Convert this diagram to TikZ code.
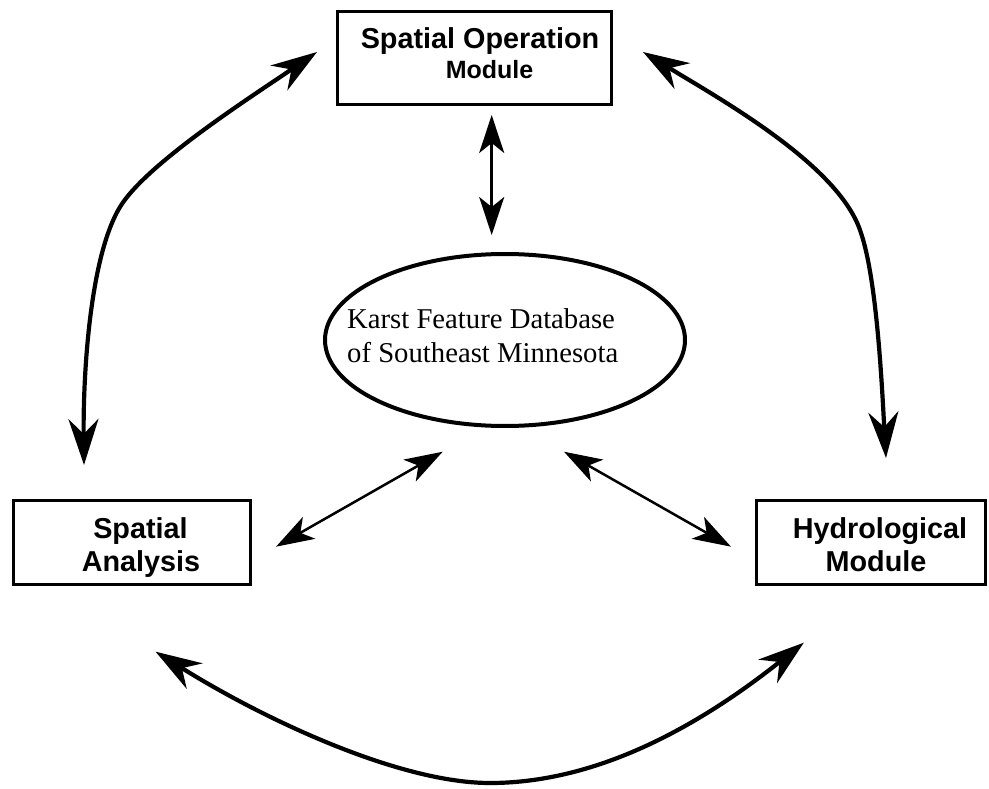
\documentclass[tikz,border=0pt]{standalone}
\usepackage{fontspec}
\setmainfont{Liberation Serif}
\setsansfont{Liberation Sans}
\usetikzlibrary{arrows.meta,shapes.geometric}
\begin{document}
\begin{tikzpicture}[x=1pt,y=-1pt,
  box/.style={draw, line width=3pt, rectangle, inner sep=0pt},
  lbl/.style={anchor=base, inner sep=0pt, font=\sffamily\bfseries\fontsize{28.8}{34}\selectfont},
  lblsmall/.style={anchor=base, inner sep=0pt, font=\sffamily\bfseries\fontsize{25}{30}\selectfont},
  dbtxt/.style={anchor=base west, inner sep=0pt, font=\fontsize{28.7}{33}\selectfont},
  bigarrow/.style={line width=4.2pt, {Stealth[length=46pt,width=30pt,inset=15pt]}-{Stealth[length=46pt,width=30pt,inset=15pt]}},
  smallarrow/.style={line width=2.5pt, {Stealth[length=38pt,width=25pt,inset=10pt]}-{Stealth[length=38pt,width=25pt,inset=10pt]}}]
\useasboundingbox (0,0) rectangle (989,789);

% boxes
\node[box, minimum width=274pt, minimum height=93pt] (som) at (474.5,58) {};
\node[lbl] (somA) at (480,49) {Spatial Operation};
\node[lblsmall] (somB) at (489.5,79) {Module};

\node[box, minimum width=237pt, minimum height=84pt] (sa) at (132,542.5) {};
\node[lbl] (saA) at (140.5,538) {Spatial};
\node[lbl] (saB) at (141,571) {Analysis};

\node[box, minimum width=229pt, minimum height=84pt] (hm) at (871,542.5) {};
\node[lbl] (hmA) at (880,538) {Hydrological};
\node[lbl] (hmB) at (876,571) {Module};

% database ellipse
\node[draw, ellipse, line width=4pt, minimum width=360pt, minimum height=172pt, inner sep=0pt] (db) at (505,340) {};
\node[dbtxt] (dbA) at (347,328) {Karst Feature Database};
\node[dbtxt] (dbB) at (347,362) {of Southeast Minnesota};

% connector ends
\coordinate (lcT) at (317,52);
\coordinate (lcB) at (84,465);
\coordinate (rcT) at (643,52);
\coordinate (rcB) at (886,458);
\coordinate (bcL) at (155.6,651.7);
\coordinate (bcR) at (803.8,642.7);
\coordinate (vT) at (491.7,115);
\coordinate (vB) at (491.7,235);
\coordinate (dlT) at (442.7,451.7);
\coordinate (dlB) at (276,546.7);
\coordinate (drT) at (564,451.7);
\coordinate (drB) at (731,546.7);

% big curved arrows
\draw[bigarrow] (lcB) .. controls (83,380) and (89,258) .. (120,207)
                      .. controls (146,164) and (251,97) .. (lcT);
\draw[bigarrow] (rcT) .. controls (720,99) and (837,164) .. (860,230)
                      .. controls (877,277) and (882,388) .. (rcB);
\draw[bigarrow] (bcL) .. controls (266,720.6) and (400,783) .. (490,783)
                      .. controls (600,783) and (702.4,723.3) .. (bcR);

% small straight arrows
\draw[smallarrow] (vT) -- (vB);
\draw[smallarrow] (dlT) -- (dlB);
\draw[smallarrow] (drT) -- (drB);
\end{tikzpicture}
\end{document}
